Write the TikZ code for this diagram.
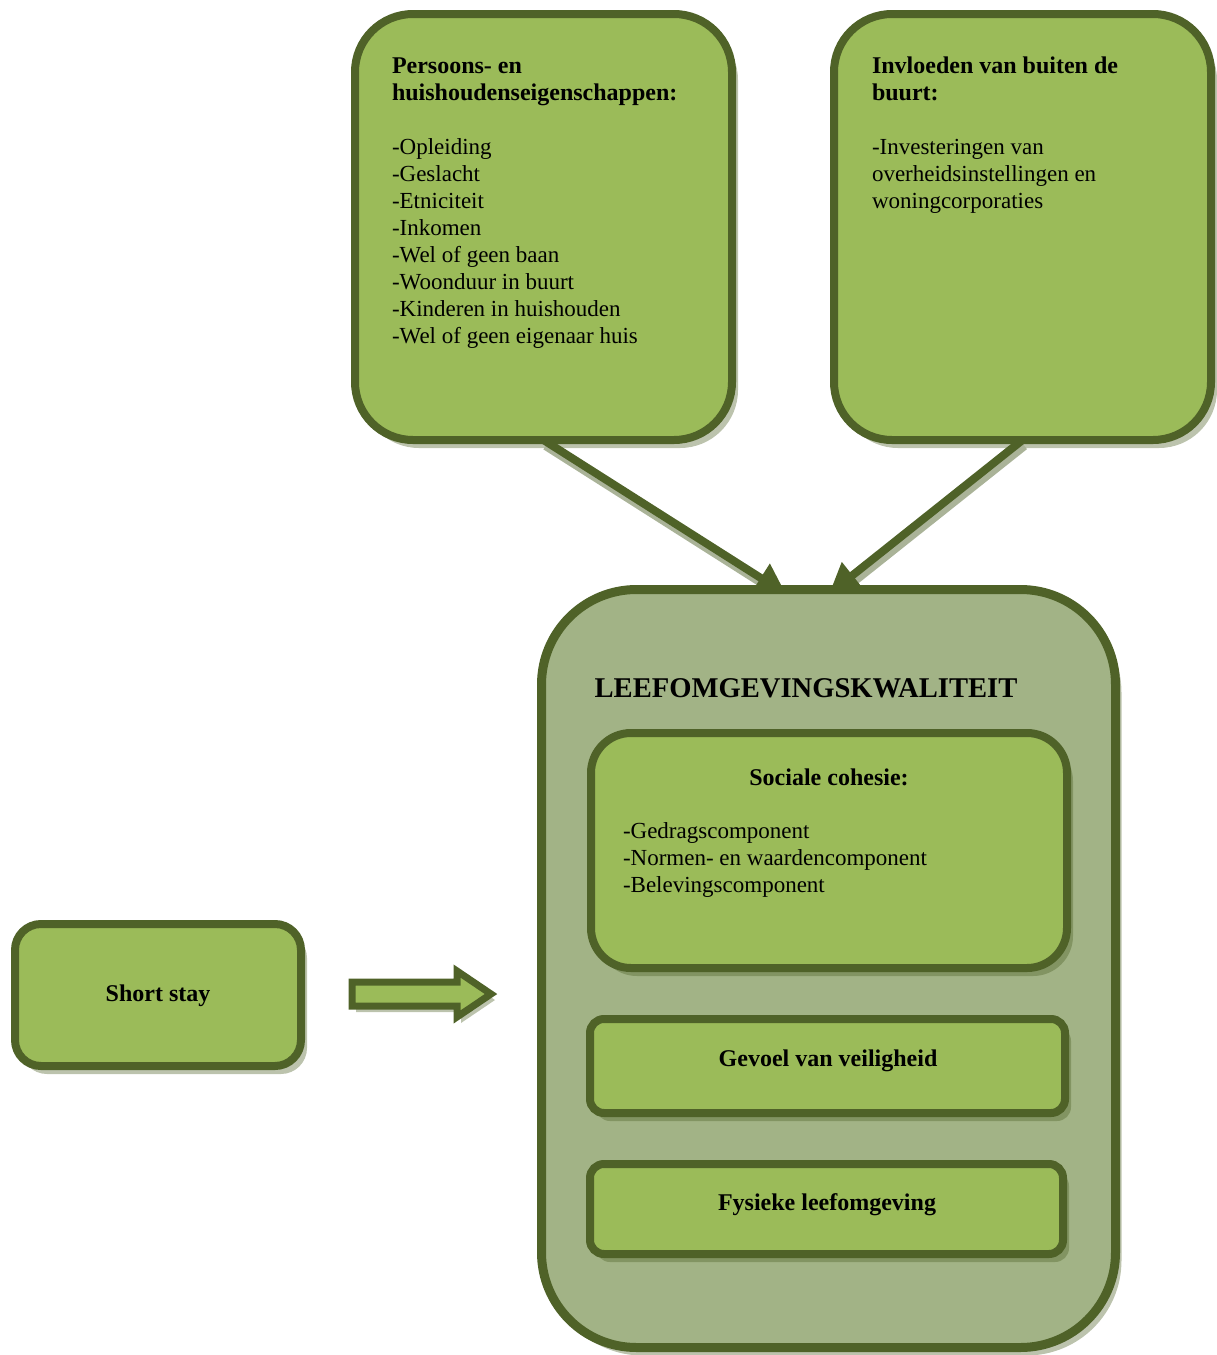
\documentclass[tikz,border=0pt]{standalone}
\usepackage{fontspec}
\setmainfont{Liberation Serif}
\usetikzlibrary{arrows.meta,shadows}
\definecolor{lg}{HTML}{9BBB59}
\definecolor{dk}{HTML}{4F6228}
\definecolor{bgc}{HTML}{A2B386}
\definecolor{shc}{HTML}{AAB398}
\newcommand\bx[1]{{\fontsize{24}{27}\selectfont\bfseries #1}}
\tikzset{
  box/.style={draw=dk, fill=lg, line width=8pt, outer sep=0pt, inner sep=0pt,
    drop shadow={shadow xshift=6pt, shadow yshift=-8pt, fill=dk, opacity=0.38}},
  conn/.style={draw=dk, line width=8pt, -{Triangle[length=30pt,width=32pt]}},
  connsh/.style={draw=shc, line width=8pt, -{Triangle[length=30pt,width=32pt]},
    transform canvas={xshift=2pt,yshift=-6pt}},
  tx/.style={inner sep=0pt, outer sep=0pt, align=left, text=black,
    font=\fontsize{23}{27}\selectfont},
  ttl/.style={inner sep=0pt, outer sep=0pt, text=black,
    font=\fontsize{24}{27}\selectfont\bfseries},
}
\begin{document}
\begin{tikzpicture}[x=1pt,y=-1pt]
\useasboundingbox (0,0) rectangle (1216,1355);

% top boxes
\node[box, rounded corners=58pt, minimum width=377pt, minimum height=426pt] (pers) at (543.5,227) {};
\node[box, rounded corners=58pt, minimum width=377pt, minimum height=426pt] (inv) at (1022.5,227) {};

\node[tx, anchor=north west] (perst) at (392,54.1) {\strut\bx{Persoons- en}\\
\bx{huishoudenseigenschappen:}\\[27pt]
-Opleiding\\
-Geslacht\\
-Etniciteit\\
-Inkomen\\
-Wel of geen baan\\
-Woonduur in buurt\\
-Kinderen in huishouden\\
-Wel of geen eigenaar huis};

\node[tx, anchor=north west] (invt) at (872,54.1) {\strut\bx{Invloeden van buiten de}\\
\bx{buurt:}\\[27pt]
-Investeringen van\\
overheidsinstellingen en\\
woningcorporaties};

% connectors
\coordinate (ta) at (786,594);
\coordinate (tb) at (829,594);
\draw[connsh] (pers.south) -- (ta);
\draw[connsh] (inv.south) -- (tb);
\draw[conn] (pers.south) -- (ta);
\draw[conn] (inv.south) -- (tb);

% big box
\node[box, fill=bgc, line width=9pt, rounded corners=95pt, minimum width=574pt, minimum height=758pt] (lk) at (828.5,968.5) {};
\node[ttl, anchor=base, font=\fontsize{28.6}{30}\selectfont\bfseries] (lkt) at (806,697) {LEEFOMGEVINGSKWALITEIT};

\node[box, rounded corners=40pt, minimum width=476pt, minimum height=235pt] (soc) at (829,850.5) {};
\node[ttl, anchor=base] (soct) at (829,785) {Sociale cohesie:};
\node[tx, anchor=north west] (socl) at (623,819.1) {\strut -Gedragscomponent\\
-Normen- en waardencomponent\\
-Belevingscomponent};

\node[box, rounded corners=14pt, minimum width=475pt, minimum height=94pt] (gev) at (827.5,1066) {};
\node[ttl, anchor=base] (gevt) at (828,1066) {Gevoel van veiligheid};

\node[box, rounded corners=14pt, minimum width=473pt, minimum height=90pt] (fys) at (826.5,1209) {};
\node[ttl, anchor=base] (fyst) at (827,1210) {Fysieke leefomgeving};

% short stay
\node[box, rounded corners=26pt, minimum width=286pt, minimum height=142pt] (ss) at (158,995) {};
\node[ttl, anchor=base] (sst) at (158,1001) {Short stay};

% block arrow
\draw[draw=dk, fill=lg, line width=7pt, miter limit=10,
  drop shadow={shadow xshift=4pt, shadow yshift=-6pt, fill=dk, opacity=0.38}]
  (352,982) -- (457,982) -- (457,971) -- (491,994) -- (457,1017) -- (457,1006) -- (352,1006) -- cycle;
\end{tikzpicture}
\end{document}
